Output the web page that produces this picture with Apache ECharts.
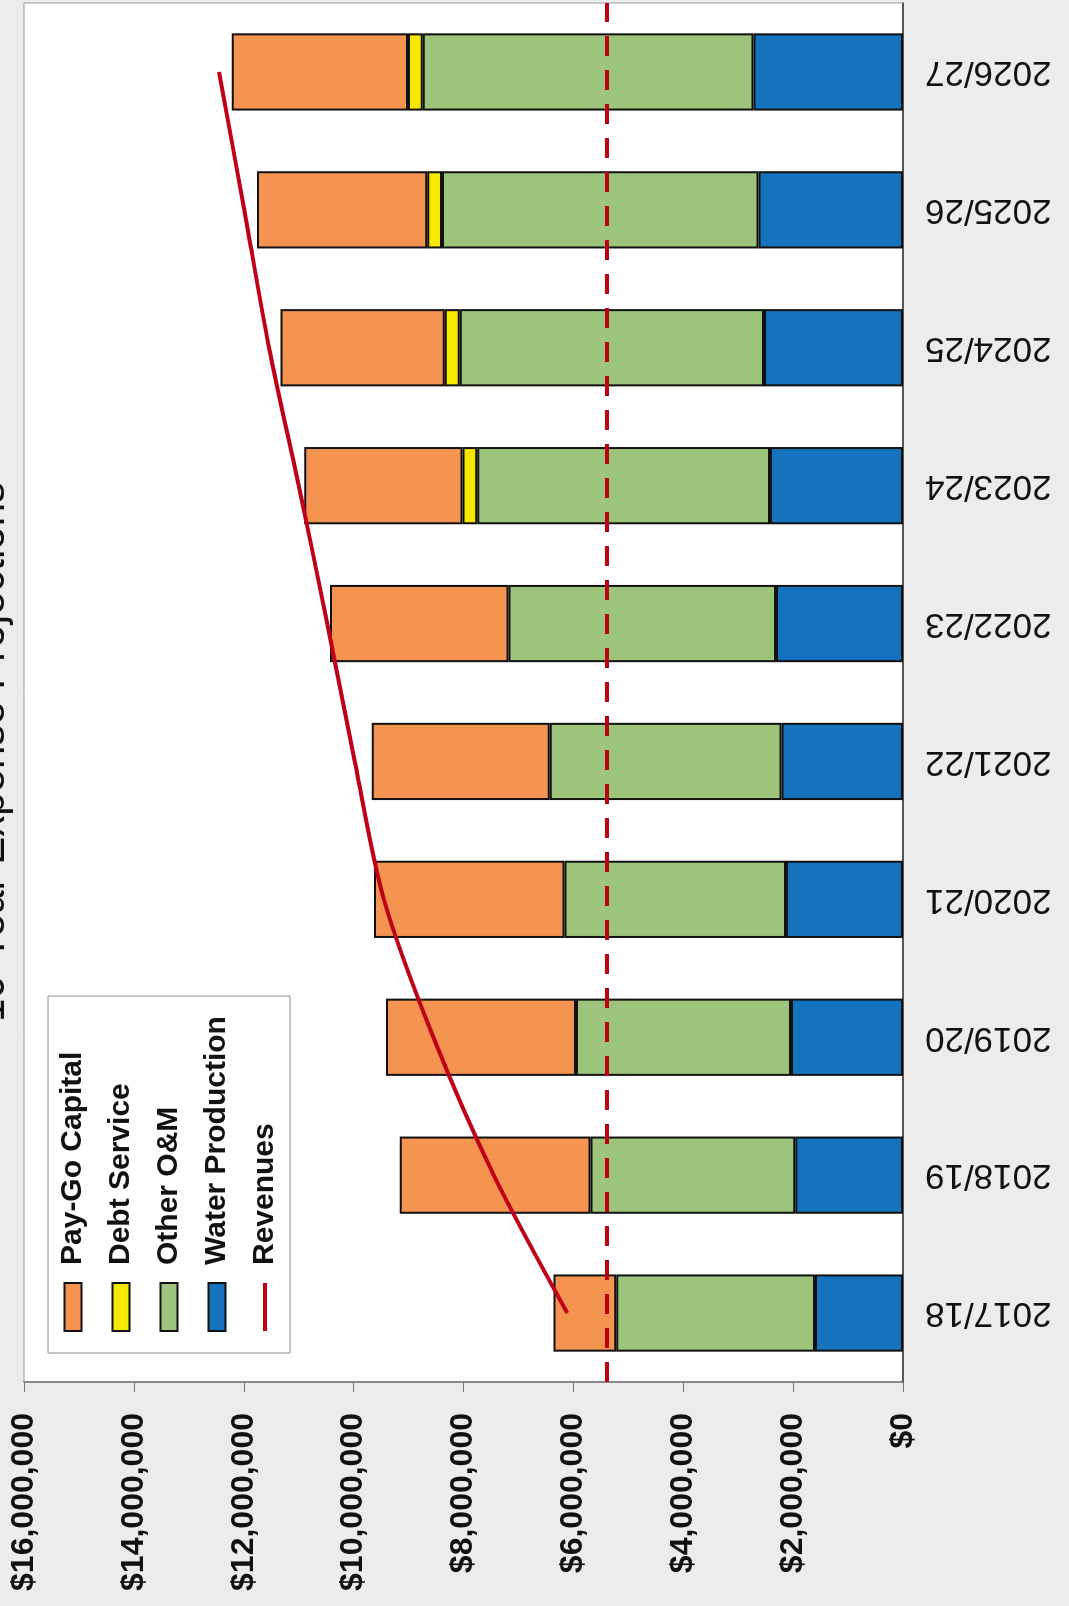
<!DOCTYPE html>
<html>
<head>
<meta charset="utf-8">
<title>10-Year Expense Projections</title>
<script src="https://cdn.jsdelivr.net/npm/echarts@6/dist/echarts.min.js"></script>
<style>
  html, body { margin: 0; padding: 0; width: 1069px; height: 1606px; overflow: hidden; background: #ececec; }
  /* chart is drawn upright, then turned a quarter turn to match the scan */
  #chart {
    position: absolute; left: 0; top: 0;
    width: 1606px; height: 1069px;
    transform-origin: 0 0;
    transform: translate(0, 1606px) rotate(-90deg);
  }
</style>
</head>
<body>
<div id="chart"></div>
<script>
var categories = ['2017/18', '2018/19', '2019/20', '2020/21', '2021/22', '2022/23', '2023/24', '2024/25', '2025/26', '2026/27']
var waterProduction = [1600000, 1960000, 2040000, 2130000, 2210000, 2310000, 2420000, 2530000, 2630000, 2720000]
var otherOM = [3620000, 3730000, 3910000, 4030000, 4220000, 4870000, 5330000, 5540000, 5760000, 6020000]
var debtService = [null, null, null, null, null, null, 270000, 270000, 270000, 270000]
var payGoCapital = [1140000, 3470000, 3460000, 3470000, 3240000, 3250000, 2880000, 2990000, 3100000, 3210000]
var revenues = [6110000, 7450000, 8550000, 9450000, 9980000, 10480000, 11000000, 11540000, 11990000, 12450000]
var reserveLevel = 5400000
var axisMin = 0
var axisMax = 16000000
var axisStep = 2000000

var font = 'Liberation Sans, Arial, sans-serif'
var myChart = echarts.init(document.getElementById('chart'))

function barSeries(name, data, color) {
  return {
    name: name,
    type: 'bar',
    stack: 'cost',
    data: data,
    barCategoryGap: '44%',
    itemStyle: { color: color, borderColor: '#111', borderWidth: 2 }
  }
}

var option = {
  animation: false,
  textStyle: { fontFamily: font },
  title: {
    text: '10-Year Expense Projections',
    left: 854,
    top: -29,
    textAlign: 'center',
    padding: 0,
    textStyle: { fontSize: 42, fontWeight: 'normal', color: '#111', fontFamily: font }
  },
  legend: {
    orient: 'vertical',
    left: 253,
    top: 48,
    data: [
      { name: 'Pay-Go Capital', icon: 'rect' },
      { name: 'Debt Service', icon: 'rect' },
      { name: 'Other O&M', icon: 'rect' },
      { name: 'Water Production', icon: 'rect' },
      // line only, hide the marker in the key
      {
        name: 'Revenues',
        itemStyle: { color: 'rgba(0,0,0,0)', borderWidth: 0 },
        lineStyle: { width: 4, color: '#c00018' }
      }
    ],
    backgroundColor: '#fff',
    borderColor: '#8c8c8c',
    borderWidth: 1,
    padding: [10, 20, 10, 20],
    itemWidth: 48,
    itemHeight: 17,
    itemGap: 18,
    textStyle: { fontSize: 30, fontWeight: 'bold', color: '#111', fontFamily: font, padding: [0, 0, 0, 13] }
  },
  grid: {
    left: 224,
    right: 3,
    top: 24,
    bottom: 166,
    show: true,
    backgroundColor: '#fff',
    borderColor: '#999',
    borderWidth: 1
  },
  xAxis: {
    type: 'category',
    data: categories,
    axisLine: { lineStyle: { color: '#333', width: 1.5 } },
    axisTick: { length: 8, lineStyle: { color: '#777' } },
    axisLabel: { rotate: 90, margin: 22, fontSize: 35, color: '#111', fontFamily: font }
  },
  yAxis: {
    type: 'value',
    min: axisMin,
    max: axisMax,
    interval: axisStep,
    axisLine: { show: true, lineStyle: { color: '#777', width: 1.5 } },
    axisTick: { show: true, length: 10, lineStyle: { color: '#777' } },
    splitLine: { show: false },
    axisLabel: {
      margin: 31,
      fontSize: 32,
      fontWeight: 'bold',
      color: '#111',
      fontFamily: font,
      formatter: function (v) { return '$' + v.toLocaleString('en-US') }
    }
  },
  series: [
    barSeries('Water Production', waterProduction, '#1473bc'),
    barSeries('Other O&M', otherOM, '#9cc47a'),
    barSeries('Debt Service', debtService, '#f7e800'),
    barSeries('Pay-Go Capital', payGoCapital, '#f59350'),
    {
      name: 'Revenues',
      type: 'line',
      data: revenues,
      smooth: 0.3,
      symbol: 'none',
      lineStyle: { color: '#c00018', width: 4 },
      itemStyle: { color: '#c00018' },
      z: 5,
      markLine: {
        silent: true,
        symbol: 'none',
        label: { show: false },
        lineStyle: { color: '#c00010', width: 4, type: [20, 14] },
        data: [{ yAxis: reserveLevel }]
      }
    }
  ]
}

myChart.setOption(option)
</script>
</body>
</html>
